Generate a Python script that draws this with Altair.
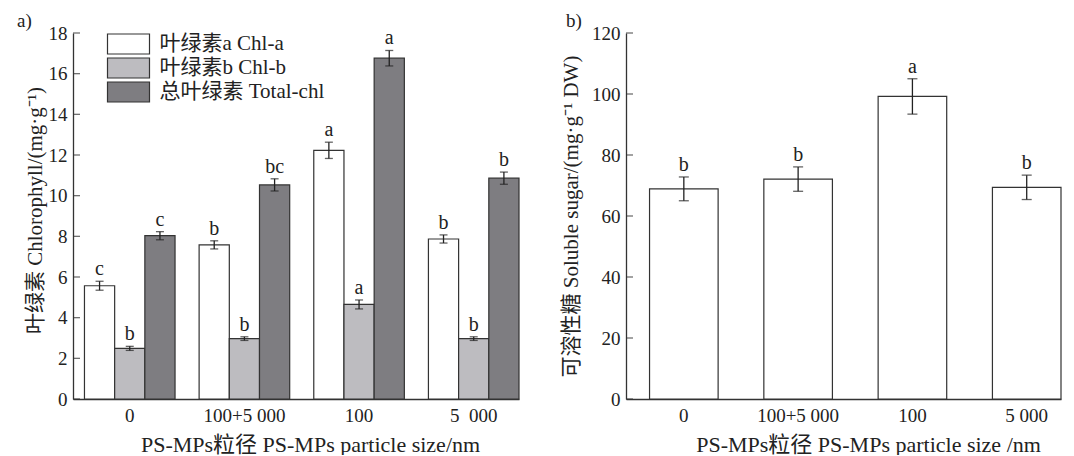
import altair as alt
import pandas as pd

# ---------------- data ----------------
groups_a = ["0", "100+5 000", "100", "5\u2002000"]
series = ["叶绿素a Chl-a", "叶绿素b Chl-b", "总叶绿素 Total-chl"]
chl_a = [5.57, 7.58, 12.23, 7.87]
chl_a_err = [0.22, 0.20, 0.40, 0.20]
chl_a_sig = ["c", "b", "a", "b"]
chl_b = [2.49, 2.97, 4.65, 2.97]
chl_b_err = [0.10, 0.09, 0.22, 0.09]
chl_b_sig = ["b", "b", "a", "b"]
total = [8.03, 10.53, 16.76, 10.86]
total_err = [0.20, 0.30, 0.38, 0.30]
total_sig = ["c", "bc", "a", "b"]

groups_b = ["0", "100+5 000", "100", "5 000"]
sugar = [68.9, 72.1, 99.2, 69.4]
sugar_err = [3.9, 4.0, 5.8, 4.0]
sugar_sig = ["b", "b", "a", "b"]

chl_ticks = list(range(0, 19, 2))
sugar_ticks = list(range(0, 121, 20))
colors = ["#ffffff", "#bdbcc0", "#7e7d81"]

FONT = "Liberation Serif, Noto Sans CJK SC"
FS = 19        # tick labels
FS_YT = 21     # y titles
FS_XT = 22     # x titles
FS_LEG = 21    # legend
FS_SIG = 20    # significance letters
INK = "#222222"

# ---------------- panel a ----------------
rows = []
for s, vals, errs, sigs in zip(series, [chl_a, chl_b, total],
                               [chl_a_err, chl_b_err, total_err],
                               [chl_a_sig, chl_b_sig, total_sig]):
    for g, v, e, sg in zip(groups_a, vals, errs, sigs):
        rows.append(dict(group=g, series=s, value=v, lo=v - e, hi=v + e, sig=sg))
dfa = pd.DataFrame(rows)

WA, H = 446, 366

xa = alt.X("group:N", sort=groups_a,
           scale=alt.Scale(paddingInner=0.21, paddingOuter=0.05, align=1),
           axis=alt.Axis(title="PS-MPs粒径 PS-MPs particle size/nm", labelAngle=0,
                         ticks=False, tickSize=0, labelPadding=22,
                         labelBaseline="alphabetic", titleX=237, titleY=52,
                         titleFontSize=FS_XT,
                         titleBaseline="alphabetic", titleAlign="center"))
xoff = alt.XOffset("series:N", sort=series,
                   scale=alt.Scale(paddingInner=0, paddingOuter=0))
ya_scale = alt.Scale(domain=[0, 18], nice=False, zero=True)
ya_axis = alt.Axis(title="叶绿素 Chlorophyll/(mg·g⁻¹)", values=chl_ticks,
                   ticks=False, tickSize=0, labelPadding=6,
                   titleFontSize=FS_YT,
                   titleX=-38, titleY=H / 2 - 6, titleBaseline="middle",
                   titleAlign="center")

bars_a = alt.Chart(dfa).mark_bar(stroke="#333333", strokeWidth=1.2).encode(
    x=xa, xOffset=xoff,
    y=alt.Y("value:Q", scale=ya_scale, axis=ya_axis),
    fill=alt.Fill("series:N", sort=series,
                  scale=alt.Scale(domain=series, range=colors),
                  legend=alt.Legend(title=None, orient="none", legendX=33.5,
                                    legendY=0, padding=0,
                                    symbolType="M-1,-1H3.2V1H-1Z",
                                    symbolSize=400, symbolStrokeColor="#333333",
                                    symbolStrokeWidth=1.2, symbolOpacity=1,
                                    labelFont=FONT, labelFontSize=FS_LEG,
                                    labelColor=INK, labelOffset=31,
                                    labelLimit=400, rowPadding=-2)),
)
err_a = alt.Chart(dfa).mark_rule(color=INK, strokeWidth=1.3).encode(
    x=xa, xOffset=xoff,
    y=alt.Y("lo:Q", scale=ya_scale, axis=ya_axis), y2="hi:Q")
cap_lo_a = alt.Chart(dfa).mark_tick(color=INK, thickness=1.3, size=8,
                                    orient="horizontal").encode(
    x=xa, xOffset=xoff, y=alt.Y("lo:Q", scale=ya_scale, axis=ya_axis))
cap_hi_a = alt.Chart(dfa).mark_tick(color=INK, thickness=1.3, size=8,
                                    orient="horizontal").encode(
    x=xa, xOffset=xoff, y=alt.Y("hi:Q", scale=ya_scale, axis=ya_axis))
sig_a = alt.Chart(dfa).mark_text(baseline="bottom", dy=-2, font=FONT,
                                 fontSize=FS_SIG, color=INK).encode(
    x=xa, xOffset=xoff, y=alt.Y("hi:Q", scale=ya_scale, axis=ya_axis),
    text="sig:N")
ticks_a = alt.Chart(pd.DataFrame({"t": chl_ticks})).mark_tick(
    color="#333333", thickness=1.3, size=7, orient="horizontal").encode(
    x=alt.value(3.5), y=alt.Y("t:Q", scale=ya_scale, axis=ya_axis))
lab_a = alt.Chart(pd.DataFrame({"t": ["a)"]})).mark_text(
    align="left", baseline="middle", font=FONT, fontSize=FS, color=INK).encode(
    x=alt.value(-56), y=alt.value(-12), text="t:N")

panel_a = alt.layer(bars_a, err_a, cap_lo_a, cap_hi_a, sig_a, ticks_a, lab_a
                    ).properties(width=WA, height=H)

# ---------------- panel b ----------------
dfb = pd.DataFrame({"group": groups_b, "value": sugar,
                    "lo": [v - e for v, e in zip(sugar, sugar_err)],
                    "hi": [v + e for v, e in zip(sugar, sugar_err)],
                    "sig": sugar_sig})
WB = 435
xb = alt.X("group:N", sort=groups_b,
           scale=alt.Scale(paddingInner=0.40, paddingOuter=0.103, align=1),
           axis=alt.Axis(title="PS-MPs粒径 PS-MPs particle size /nm", labelAngle=0,
                         ticks=False, tickSize=0, labelPadding=22,
                         labelBaseline="alphabetic", titleX=242, titleY=52,
                         titleFontSize=FS_XT,
                         titleBaseline="alphabetic", titleAlign="center"))
yb_scale = alt.Scale(domain=[0, 120], nice=False, zero=True)
yb_axis = alt.Axis(title="可溶性糖 Soluble sugar/(mg·g⁻¹ DW)", values=sugar_ticks,
                   ticks=False, tickSize=0, labelPadding=6,
                   titleFontSize=FS_YT,
                   titleX=-55, titleY=H / 2, titleBaseline="middle",
                   titleAlign="center")

bars_b = alt.Chart(dfb).mark_bar(fill="#ffffff", stroke="#333333",
                                 strokeWidth=1.2).encode(
    x=xb, y=alt.Y("value:Q", scale=yb_scale, axis=yb_axis))
err_b = alt.Chart(dfb).mark_rule(color=INK, strokeWidth=1.3).encode(
    x=xb, y=alt.Y("lo:Q", scale=yb_scale, axis=yb_axis), y2="hi:Q")
cap_lo_b = alt.Chart(dfb).mark_tick(color=INK, thickness=1.3, size=10,
                                    orient="horizontal").encode(
    x=xb, y=alt.Y("lo:Q", scale=yb_scale, axis=yb_axis))
cap_hi_b = alt.Chart(dfb).mark_tick(color=INK, thickness=1.3, size=10,
                                    orient="horizontal").encode(
    x=xb, y=alt.Y("hi:Q", scale=yb_scale, axis=yb_axis))
sig_b = alt.Chart(dfb).mark_text(baseline="bottom", dy=-2, font=FONT,
                                 fontSize=FS_SIG, color=INK).encode(
    x=xb, y=alt.Y("hi:Q", scale=yb_scale, axis=yb_axis), text="sig:N")
ticks_b = alt.Chart(pd.DataFrame({"t": sugar_ticks})).mark_tick(
    color="#333333", thickness=1.3, size=7, orient="horizontal").encode(
    x=alt.value(3.5), y=alt.Y("t:Q", scale=yb_scale, axis=yb_axis))
lab_b = alt.Chart(pd.DataFrame({"t": ["b)"]})).mark_text(
    align="left", baseline="middle", font=FONT, fontSize=FS, color=INK).encode(
    x=alt.value(-60), y=alt.value(-12), text="t:N")

panel_b = alt.layer(bars_b, err_b, cap_lo_b, cap_hi_b, sig_b, ticks_b, lab_b
                    ).properties(width=WB, height=H)

chart = alt.hconcat(panel_a, panel_b, spacing=40).properties(
    padding={"left": 9, "top": 4, "right": 0, "bottom": 0},
    background="white",
).configure_axis(
    grid=False, domainColor="#333333", domainWidth=1.3,
    labelFont=FONT, labelFontSize=FS, labelColor=INK,
    titleFont=FONT, titleFontWeight="normal", titleColor=INK,
).configure_view(stroke=None)

chart.save("out.html", embed_options={"renderer": "svg", "actions": False})
